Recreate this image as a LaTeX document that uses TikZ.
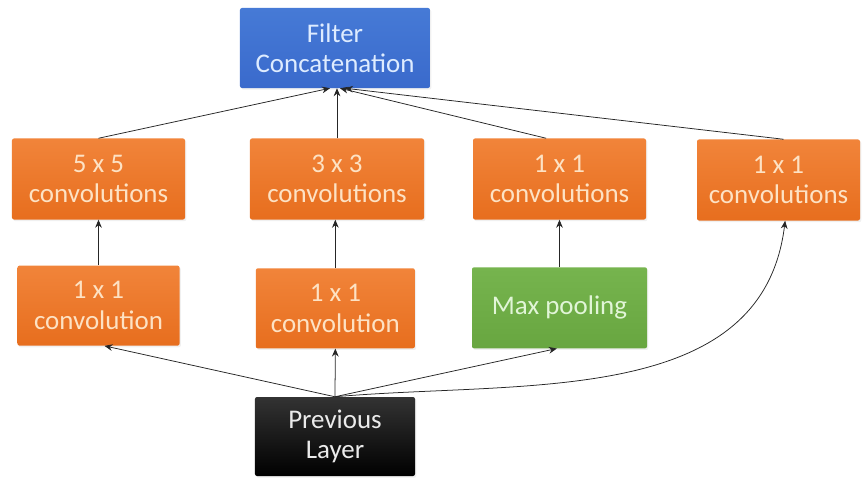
\documentclass[tikz,border=0pt]{standalone}
\usepackage{fontspec}
\setmainfont{Carlito}
\usepackage{xcolor}
\usetikzlibrary{arrows.meta, positioning, shadows}

\definecolor{boxorange}{RGB}{231,110,30}
\definecolor{boxorangelt}{RGB}{241,132,58}
\definecolor{boxgreen}{RGB}{104,166,64}
\definecolor{boxgreenlt}{RGB}{118,180,78}
\definecolor{boxblue}{RGB}{58,106,204}
\definecolor{boxbluelt}{RGB}{70,122,214}
\definecolor{txtorange}{RGB}{253,226,196}
\definecolor{txtgreen}{RGB}{225,245,215}
\definecolor{txtblue}{RGB}{222,236,255}

\begin{document}
\begin{tikzpicture}[
    x=0.03cm, y=-0.03cm,
    baseblock/.style={rectangle, rounded corners=0.06cm, align=center, inner sep=0pt,
        font=\fontsize{23}{26}\selectfont, drop shadow={opacity=0.12, shadow xshift=0.04cm, shadow yshift=-0.05cm}},
    convblock/.style={baseblock, top color=boxorangelt, bottom color=boxorange, text=txtorange, minimum height=2.43cm},
    poolblock/.style={baseblock, top color=boxgreenlt, bottom color=boxgreen, text=txtgreen, minimum height=2.43cm},
    catblock/.style={baseblock, top color=boxbluelt, bottom color=boxblue, text=txtblue, minimum width=5.7cm, minimum height=2.4cm},
    inblock/.style={baseblock, top color=black!80, bottom color=black, text=black!8, minimum width=4.8cm, minimum height=2.37cm},
    arrow/.style={-{Stealth[length=2.4mm, width=2mm]}, line width=0.65pt, color=black!85},
]
\useasboundingbox (0,0) rectangle (865,478);

% top of the module
\node[catblock] (cat) at (335,48) {Filter\\Concatenation};

% convolution row
\node[convblock, minimum width=5.19cm] (conv5) at (98.5,179) {5 x 5\\convolutions};
\node[convblock, minimum width=5.22cm] (conv3) at (337,179) {3 x 3\\convolutions};
\node[convblock, minimum width=5.19cm] (conv1a) at (559.5,179) {1 x 1\\convolutions};
\node[convblock, minimum width=4.89cm] (conv1b) at (778.5,180) {1 x 1\\convolutions};

% reduction row
\node[convblock, minimum width=4.86cm, minimum height=2.4cm, below=1.37cm of conv5] (red5) {1 x 1\\convolution};
\node[convblock, minimum width=4.77cm, minimum height=2.4cm, below=1.45cm of conv3, xshift=-0.05cm] (red3) {1 x 1\\convolution};
\node[poolblock, minimum width=5.25cm, below=1.42cm of conv1a] (pool) {Max pooling};

% input
\node[inblock] (prev) at (335,436.5) {Previous\\Layer};

\draw[arrow] (conv5.north) -- ([xshift=-0.15cm]cat.south);
\draw[arrow] (conv3.north) -- (conv3.north |- cat.south);
\draw[arrow] ([xshift=-0.4cm]conv1a.north) -- ([xshift=0.15cm]cat.south);
\draw[arrow] ([xshift=0.15cm]conv1b.north) -- ([xshift=0.3cm]cat.south);

\draw[arrow] (red5.north) -- (red5.north |- conv5.south);
\draw[arrow] (red3.north) -- (red3.north |- conv3.south);
\draw[arrow] (pool.north) -- (pool.north |- conv1a.south);

\draw[arrow] (prev.north) -- ([xshift=0.18cm]red5.south);
\draw[arrow] (prev.north) -- (red3.south);
\draw[arrow] (prev.north) -- ([xshift=-0.08cm]pool.south);
\draw[arrow] (prev.north) to[out=5, in=-97] ([xshift=0.2cm]conv1b.south);
\end{tikzpicture}
\end{document}
